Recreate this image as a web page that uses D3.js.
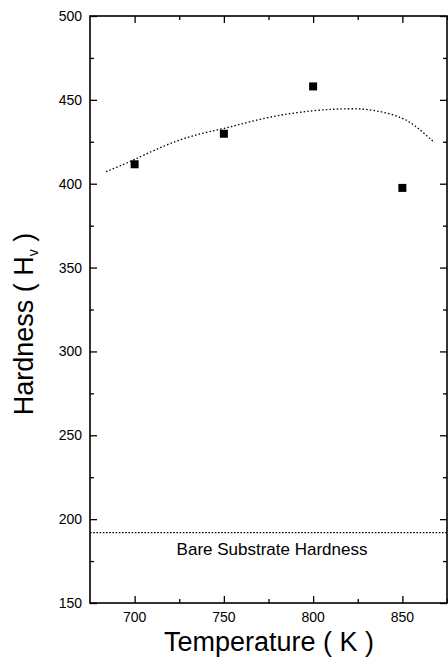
<!DOCTYPE html>
<html>
<head>
<meta charset="utf-8">
<script src="https://cdn.jsdelivr.net/npm/d3@7"></script>
<style>
  body { margin: 0; background: #fff; }
  svg text { font-family: "Liberation Sans", Arial, sans-serif; fill: #000; }
</style>
</head>
<body>
<div id="chart"></div>
<script>
// measured points
var temps = [700, 750, 800, 850];
var hardness = [411.6, 429.8, 458, 397.5];

// fitted curve (dotted)
var fitT = [684, 700, 725, 750, 775, 800, 820, 835, 850, 860, 868];
var fitH = [407.2, 414.5, 426, 433, 439.5, 443.5, 444.7, 443.5, 439, 432, 424.5];

// bare substrate reference
var bareH = 192;
var bareLabel = "Bare Substrate Hardness";

var xTicks = [700, 750, 800, 850];
var xMinor = [725, 775, 825, 875];
var yTicks = [150, 200, 250, 300, 350, 400, 450, 500];
var yMinor = [175, 225, 275, 325, 375, 425, 475];

var margin = {top: 16, left: 90, right: 1, bottom: 56};
var width = 448 - margin.left - margin.right;
var height = 659 - margin.top - margin.bottom;

var svg = d3.select("#chart").append("svg")
  .attr("width", 448)
  .attr("height", 659)
  .append("g")
  .attr("transform", "translate(" + margin.left + "," + margin.top + ")");

var x = d3.scaleLinear().domain([675, 875]).range([0, width]);
var y = d3.scaleLinear().domain([150, 500]).range([height, 0]);

// ticks on all four sides, pointing inward
function ticks(axis, vals, len) {
  return axis(axis === d3.axisBottom || axis === d3.axisTop ? x : y)
    .tickValues(vals).tickSizeInner(-len).tickSizeOuter(0).tickFormat("");
}

svg.append("g").attr("transform", "translate(0," + height + ")").call(ticks(d3.axisBottom, xTicks, 7));
svg.append("g").attr("transform", "translate(0," + height + ")").call(ticks(d3.axisBottom, xMinor, 4));
svg.append("g").call(ticks(d3.axisTop, xTicks, 7));
svg.append("g").call(ticks(d3.axisTop, xMinor, 4));
svg.append("g").call(ticks(d3.axisLeft, yTicks, 7));
svg.append("g").call(ticks(d3.axisLeft, yMinor, 4));
svg.append("g").attr("transform", "translate(" + width + ",0)").call(ticks(d3.axisRight, yTicks, 7));
svg.append("g").attr("transform", "translate(" + width + ",0)").call(ticks(d3.axisRight, yMinor, 4));
svg.selectAll(".domain").remove();
svg.selectAll(".tick line").attr("stroke", "#000").attr("stroke-width", 1.3);

// frame
svg.append("rect")
  .attr("width", width).attr("height", height)
  .attr("fill", "none").attr("stroke", "#000").attr("stroke-width", 1.6);

// tick labels
svg.selectAll(".xl").data(xTicks).enter().append("text")
  .attr("x", d => x(d)).attr("y", height + 19)
  .attr("text-anchor", "middle").attr("font-size", 14)
  .text(d => d);

svg.selectAll(".yl").data(yTicks).enter().append("text")
  .attr("x", -8).attr("y", d => y(d)).attr("dy", "0.36em")
  .attr("text-anchor", "end").attr("font-size", 14)
  .text(d => d);

// axis titles
svg.append("text")
  .attr("x", x(775.3)).attr("y", height + 48)
  .attr("text-anchor", "middle").attr("font-size", 27)
  .text("Temperature ( K )");

var yt = svg.append("text")
  .attr("transform", "translate(" + (33 - margin.left) + "," + y(316.4) + ") rotate(-90)")
  .attr("text-anchor", "middle").attr("font-size", 27);
yt.append("tspan").text("Hardness ( H");
yt.append("tspan").attr("font-size", 14).attr("dy", 5).text("v");
yt.append("tspan").attr("dy", -5).text(" )");

// bare substrate line
svg.append("line")
  .attr("x1", 0).attr("x2", width)
  .attr("y1", y(bareH)).attr("y2", y(bareH))
  .attr("stroke", "#000").attr("stroke-width", 1.2)
  .attr("stroke-dasharray", "1.6,1.6");

svg.append("text")
  .attr("x", x(777)).attr("y", y(bareH) + 22)
  .attr("text-anchor", "middle").attr("font-size", 17)
  .text(bareLabel);

// fitted curve
var fit = fitT.map((t, i) => [t, fitH[i]]);
svg.append("path")
  .datum(fit)
  .attr("fill", "none").attr("stroke", "#000").attr("stroke-width", 1.3)
  .attr("stroke-dasharray", "1.5,2.2")
  .attr("d", d3.line().x(d => x(d[0])).y(d => y(d[1])).curve(d3.curveNatural));

// data markers
svg.selectAll(".pt").data(temps).enter().append("rect")
  .attr("x", d => x(d) - 4)
  .attr("y", (d, i) => y(hardness[i]) - 4)
  .attr("width", 8).attr("height", 8)
  .attr("fill", "#000");
</script>
</body>
</html>
